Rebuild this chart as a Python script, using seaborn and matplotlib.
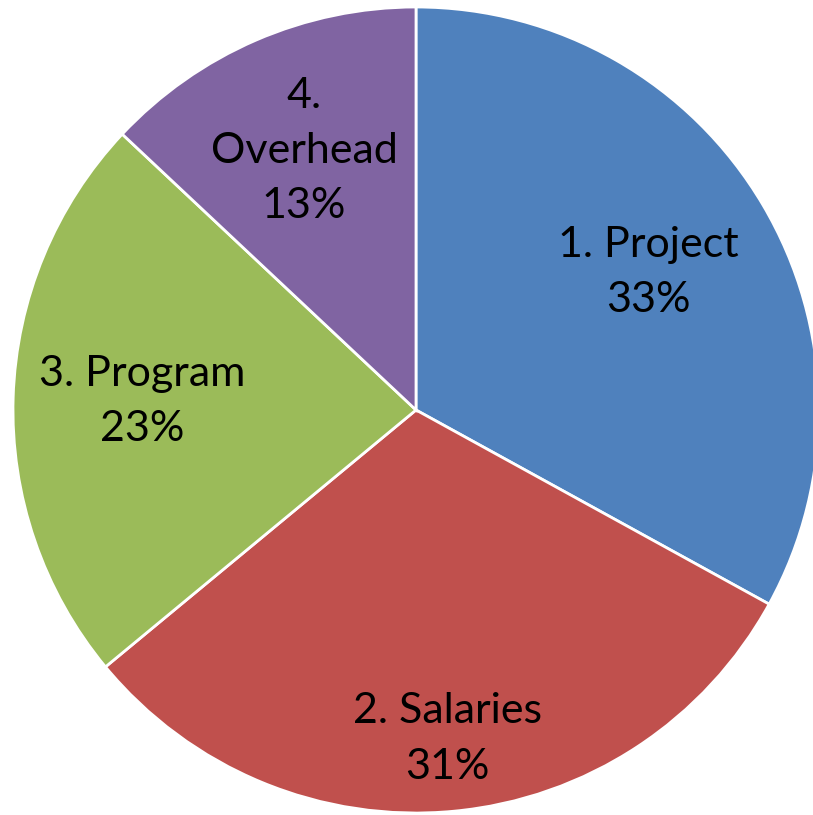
import numpy as np
import seaborn as sns
import matplotlib.pyplot as plt

categories = ['1. Project', '2. Salaries', '3. Program', '4.\nOverhead']
shares = [33, 31, 23, 13]
colors = ['#4F81BD', '#C0504D', '#9BBB59', '#8064A2']
label_dist = [0.67, 0.82, 0.68, 0.70]

sns.set_theme(style="white")
plt.rcParams['font.family'] = ['Lato', 'DejaVu Sans']

fig = plt.figure(figsize=(8.13, 8.15), dpi=100)
ax = fig.add_axes([0, 0, 1, 1])

wedges, _ = ax.pie(shares, colors=colors, startangle=90, counterclock=False,
                   wedgeprops=dict(edgecolor='white', linewidth=2))

# labels inside each slice, placed along the slice's middle angle
for w, cat, val, d in zip(wedges, categories, shares, label_dist):
    mid = np.deg2rad((w.theta1 + w.theta2) / 2)
    ax.text(d * np.cos(mid), d * np.sin(mid), f"{cat}\n{val}%",
            ha='center', va='center', fontsize=31, color='black',
            linespacing=1.55)

ax.set_aspect('auto')
ax.set_xlim(-416 / 403, 397 / 403)
ax.set_ylim(-405 / 403, 410 / 403)
ax.axis('off')

fig.savefig('out.png', dpi=100, facecolor='white')
